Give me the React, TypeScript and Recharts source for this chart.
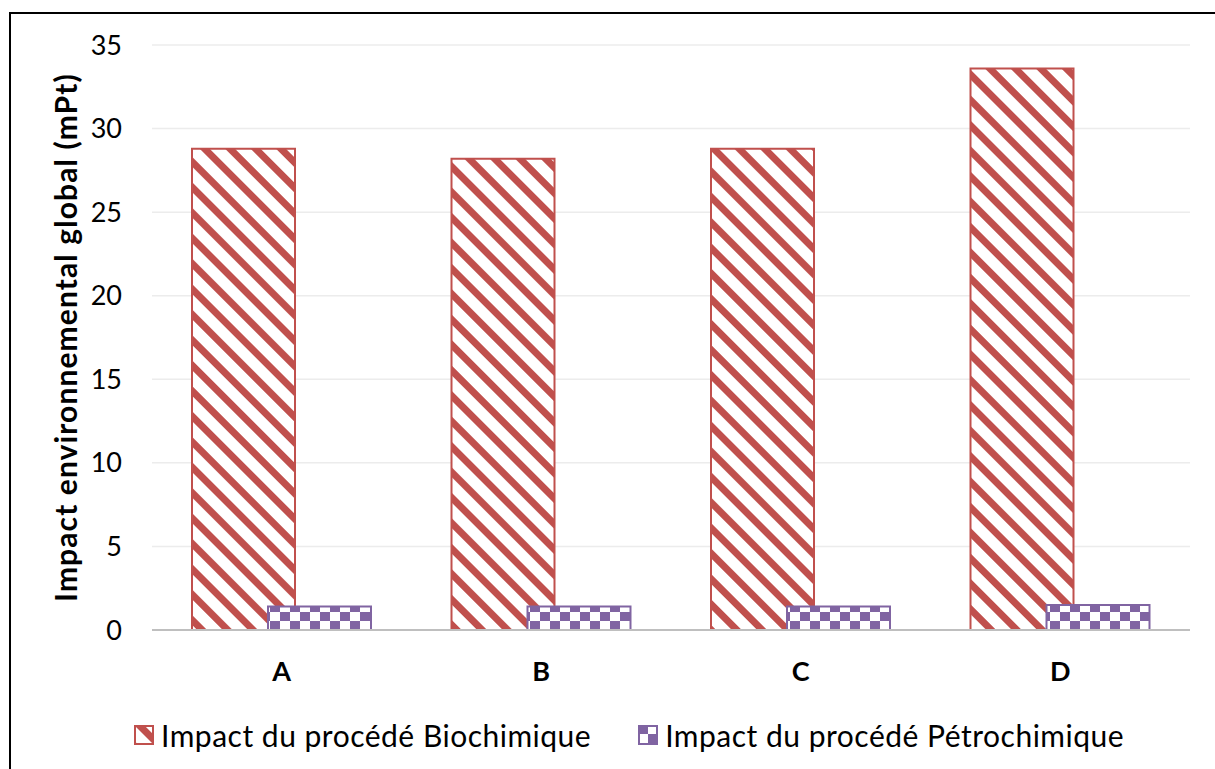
import React from "react";
import { BarChart, Bar, XAxis, YAxis, CartesianGrid, Legend } from "recharts";

const CATEGORIES = ["A", "B", "C", "D"];
const BIOCHIMIQUE = [28.8, 28.2, 28.8, 33.6];
const PETROCHIMIQUE = [1.4, 1.4, 1.4, 1.5];
const Y_TICKS = [0, 5, 10, 15, 20, 25, 30, 35];
const SERIES_NAMES = ["Impact du procédé Biochimique", "Impact du procédé Pétrochimique"];
const Y_TITLE = "Impact environnemental global (mPt)";

const RED = "#c0504d";
const PURPLE = "#8064a2";
const FONT = "Lato, 'Open Sans', sans-serif";

const data = CATEGORIES.map((c, i) => ({
  name: c,
  bio: BIOCHIMIQUE[i],
  petro: PETROCHIMIQUE[i],
}));

function Patterns() {
  return (
    <defs>
      <pattern id="stripes" patternUnits="userSpaceOnUse" width={18} height={18} patternTransform="rotate(-45)">
        <rect width={18} height={18} fill="#fff" />
        <rect width={7} height={18} fill={RED} />
      </pattern>
      <pattern id="checker" patternUnits="userSpaceOnUse" width={20} height={18}>
        <rect width={20} height={18} fill="#fff" />
        <rect width={10} height={9} fill={PURPLE} />
        <rect x={10} y={9} width={10} height={9} fill={PURPLE} />
      </pattern>
    </defs>
  );
}

function LegendBox() {
  const items = [
    { name: SERIES_NAMES[0], fill: "url(#stripes)", stroke: RED },
    { name: SERIES_NAMES[1], fill: "url(#checker)", stroke: PURPLE },
  ];
  return (
    <div
      style={{
        display: "flex",
        alignItems: "center",
        height: 40,
        fontFamily: FONT,
        fontSize: 30,
        letterSpacing: 0.5,
        color: "#000",
      }}
    >
      {items.map((it) => (
        <div key={it.name} style={{ display: "flex", alignItems: "center", marginRight: 47 }}>
          <svg width={20} height={20} style={{ marginRight: 7 }}>
            <rect x={1} y={1} width={18} height={18} fill={it.fill} stroke={it.stroke} strokeWidth={2} />
          </svg>
          <span>{it.name}</span>
        </div>
      ))}
    </div>
  );
}

function YTitle(props: any) {
  const vb = props.viewBox || { x: 0, y: 0, width: 0, height: 0 };
  const cx = vb.x + 55;
  const cy = vb.y + vb.height / 2;
  return (
    <text
      x={cx}
      y={cy}
      transform={`rotate(-90, ${cx}, ${cy})`}
      textAnchor="middle"
      dominantBaseline="central"
      fontFamily={FONT}
      fontWeight="bold"
      fontSize={30}
      letterSpacing={1.1}
      fill="#000"
    >
      {Y_TITLE}
    </text>
  );
}

export default function App() {
  return (
    <div style={{ position: "absolute", left: 0, top: 0, width: 1215, height: 769, overflow: "hidden", background: "#fff" }}>
      <div
        style={{
          position: "absolute",
          left: 9,
          top: 12,
          width: 1400,
          height: 900,
          border: "2px solid #000",
        }}
      />
      <div style={{ position: "absolute", left: 0, top: 0 }}>
        <BarChart
          width={1215}
          height={769}
          data={data}
          margin={{ top: 45, right: 25, left: 10, bottom: 39 }}
          barSize={103}
          barGap={-27}
        >
          <Patterns />
          <CartesianGrid vertical={false} stroke="#ececec" strokeWidth={1.5} />
          <XAxis
            dataKey="name"
            height={60}
            tickLine={false}
            tickSize={0}
            tickMargin={32}
            axisLine={{ stroke: "#bfbfbf", strokeWidth: 2 }}
            tick={{ fontFamily: FONT, fontSize: 27, fontWeight: "bold", fill: "#000" }}
          />
          <YAxis
            width={142}
            domain={[0, 35]}
            ticks={Y_TICKS}
            interval={0}
            axisLine={false}
            tickLine={false}
            tickSize={0}
            tickMargin={30}
            tick={{ fontFamily: FONT, fontSize: 27, fill: "#000" }}
            label={{ content: (p: any) => <YTitle {...p} /> }}
          />
          <Legend
            verticalAlign="bottom"
            content={() => <LegendBox />}
            wrapperStyle={{ left: 134, width: 1060, bottom: 14 }}
          />
          <Bar dataKey="bio" name={SERIES_NAMES[0]} fill="url(#stripes)" stroke={RED} strokeWidth={2} isAnimationActive={false} />
          <Bar dataKey="petro" name={SERIES_NAMES[1]} fill="url(#checker)" stroke={PURPLE} strokeWidth={2} isAnimationActive={false} />
        </BarChart>
      </div>
    </div>
  );
}
